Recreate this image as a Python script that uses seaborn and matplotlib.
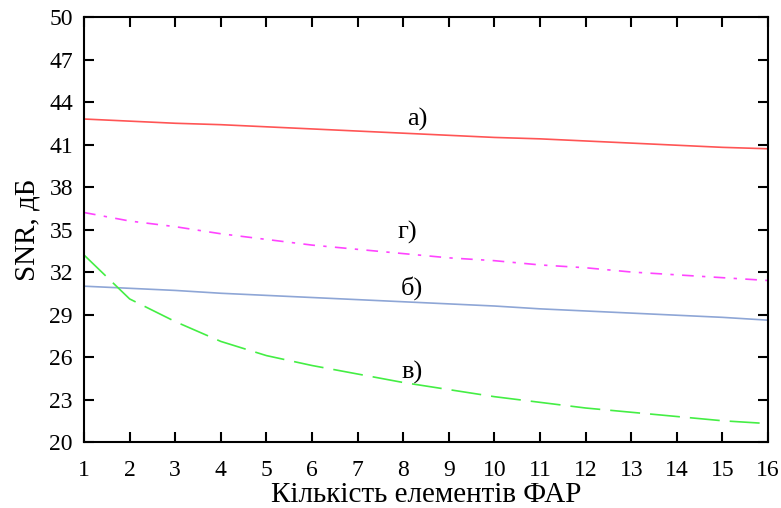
import numpy as np
import pandas as pd
import matplotlib
matplotlib.use("Agg")
import matplotlib.pyplot as plt
import seaborn as sns

# number of array elements
elements = list(range(1, 17))

# SNR values, dB
snr_a = [42.8, 42.65, 42.5, 42.4, 42.25, 42.1, 41.95, 41.8,
         41.65, 41.5, 41.4, 41.25, 41.1, 40.95, 40.8, 40.7]
snr_b = [31.0, 30.85, 30.7, 30.5, 30.35, 30.2, 30.05, 29.9,
         29.75, 29.6, 29.4, 29.25, 29.1, 28.95, 28.8, 28.6]
snr_v = [33.2, 30.1, 28.5, 27.1, 26.1, 25.4, 24.8, 24.2,
         23.7, 23.2, 22.8, 22.4, 22.1, 21.8, 21.5, 21.3]
snr_g = [36.2, 35.6, 35.2, 34.7, 34.3, 33.9, 33.6, 33.3,
         33.0, 32.8, 32.5, 32.3, 32.0, 31.8, 31.6, 31.4]

curve_names = ["а)", "б)", "в)", "г)"]
label_x = [8.3, 8.2, 8.2, 8.1]
label_y = [42.8, 30.9, 24.9, 34.8]

x_ticks = list(range(1, 17))
y_ticks = list(range(20, 51, 3))

sns.set_theme(style="ticks")
plt.rcParams['font.family'] = ['Liberation Serif', 'DejaVu Serif']
plt.rcParams['text.color'] = 'black'
plt.rcParams['axes.labelcolor'] = 'black'

df = pd.DataFrame({
    "x": elements * 4,
    "snr": snr_a + snr_b + snr_v + snr_g,
    "curve": sum([[n] * len(elements) for n in curve_names], []),
})

palette = {"а)": "#ff5555", "б)": "#8ea6d6", "в)": "#44ee44", "г)": "#ff44ff"}
dashes = {"а)": "", "б)": "", "в)": (18, 6), "г)": (7, 5, 2, 5)}

fig = plt.figure(figsize=(7.81, 5.08), dpi=100)
ax = fig.add_axes([0.1076, 0.1299, 0.8758, 0.8366])

sns.lineplot(data=df, x="x", y="snr", hue="curve", style="curve",
             palette=palette, dashes=dashes, linewidth=1.2,
             legend=False, ax=ax)

for name, lx, ly in zip(curve_names, label_x, label_y):
    ax.text(lx, ly, name, fontsize=19, ha="center", va="center", color="black")

ax.set_xlim(1, 16)
ax.set_ylim(20, 50)
ax.set_xticks(x_ticks)
ax.set_yticks(y_ticks)
ax.tick_params(direction="in", length=7, width=1.5, labelsize=17,
               top=True, right=True, colors="black", labelcolor="black")
ax.tick_params(axis="x", pad=13)
ax.tick_params(axis="y", pad=8)
for sp in ax.spines.values():
    sp.set_linewidth(1.5)
    sp.set_color("black")

ax.set_xlabel("Кількість елементів ФАР", fontsize=21, labelpad=1)
ax.set_ylabel("SNR, дБ", fontsize=21, labelpad=6)

fig.savefig("out.png", dpi=100)
